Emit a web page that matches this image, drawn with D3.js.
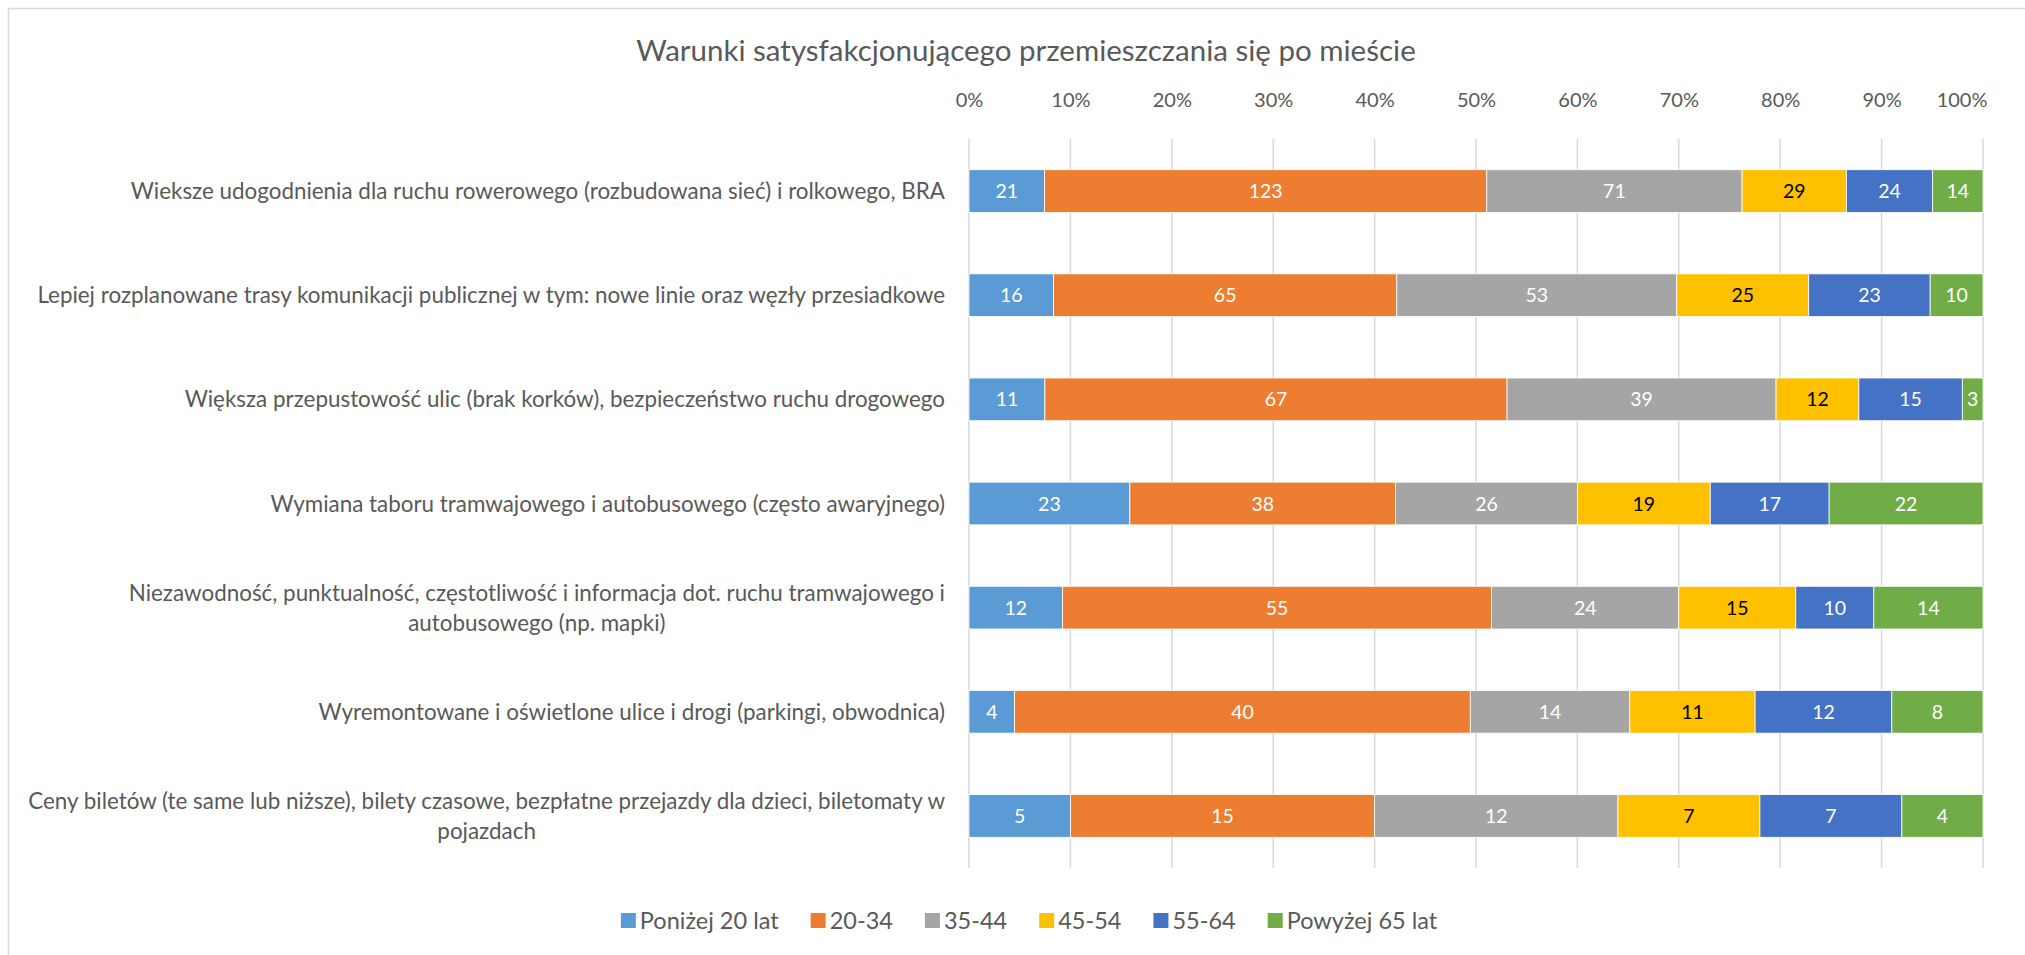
<!DOCTYPE html>
<html>
<head>
<meta charset="utf-8">
<script src="https://cdn.jsdelivr.net/npm/d3@7"></script>
<style>
  body { margin: 0; background: #fff; }
  svg { display: block; font-family: Lato, "Open Sans", sans-serif; }
  .lbl { fill: #595959; }
</style>
</head>
<body>
<div id="chartDiv"></div>
<script>
var categories = [
	["Wieksze udogodnienia dla ruchu rowerowego (rozbudowana sieć) i rolkowego, BRA"],
	["Lepiej rozplanowane trasy komunikacji publicznej w tym: nowe linie oraz węzły przesiadkowe"],
	["Większa przepustowość ulic (brak korków), bezpieczeństwo ruchu drogowego"],
	["Wymiana taboru tramwajowego i autobusowego (często awaryjnego)"],
	["Niezawodność, punktualność, częstotliwość i informacja dot. ruchu tramwajowego i", "autobusowego (np. mapki)"],
	["Wyremontowane i oświetlone ulice i drogi (parkingi, obwodnica)"],
	["Ceny biletów (te same lub niższe), bilety czasowe, bezpłatne przejazdy dla dzieci, biletomaty w", "pojazdach"]
];
var seriesNames = ["Poniżej 20 lat", "20-34", "35-44", "45-54", "55-64", "Powyżej 65 lat"];
var seriesColors = ["#5B9BD5", "#ED7D31", "#A5A5A5", "#FFC000", "#4472C4", "#70AD47"];
var labelColors = ["#fff", "#fff", "#fff", "#000", "#fff", "#fff"];

var ponizej20 = [21, 16, 11, 23, 12, 4, 5];
var a20_34 = [123, 65, 67, 38, 55, 40, 15];
var a35_44 = [71, 53, 39, 26, 24, 14, 12];
var a45_54 = [29, 25, 12, 19, 15, 11, 7];
var a55_64 = [24, 23, 15, 17, 10, 12, 7];
var powyzej65 = [14, 10, 3, 22, 14, 8, 4];
var seriesValues = [ponizej20, a20_34, a35_44, a45_54, a55_64, powyzej65];

var tickValues = [0, 0.1, 0.2, 0.3, 0.4, 0.5, 0.6, 0.7, 0.8, 0.9, 1];

var W = 2025, H = 955;
var svg = d3.select("#chartDiv").append("svg").attr("width", W).attr("height", H);

// chart frame (only left/top visible in the screenshot)
svg.append("rect")
	.attr("x", 8.5).attr("y", 8.5).attr("width", W + 20).attr("height", H + 20)
	.attr("fill", "none").attr("stroke", "#D9D9D9").attr("stroke-width", 1.5);

svg.append("text").attr("class", "lbl")
	.attr("x", 1026).attr("y", 61).attr("text-anchor", "middle")
	.style("font-size", "29.5px")
	.text("Warunki satysfakcjonującego przemieszczania się po mieście");

var x = d3.scaleLinear().domain([0, 1]).range([969, 1983]);
var y = d3.scaleBand().domain(d3.range(categories.length)).range([139, 868]).paddingInner(0.59).paddingOuter(0.295);

// gridlines
svg.append("g").selectAll("line").data(tickValues).enter().append("line")
	.attr("x1", function(d) { return x(d); }).attr("x2", function(d) { return x(d); })
	.attr("y1", 139).attr("y2", 868)
	.attr("stroke", "#D9D9D9").attr("stroke-width", 1.5);

var xAxis = d3.axisTop(x).tickValues(tickValues).tickFormat(d3.format(".0%")).tickSize(0).tickPadding(0);
var ax = svg.append("g").attr("transform", "translate(0,107)").call(xAxis);
ax.select(".domain").remove();
ax.selectAll("text").attr("class", "lbl").style("font-size", "20px").style("font-family", "Lato, sans-serif");
// last label is kept inside the chart area, like Excel does
ax.selectAll(".tick text").filter(function(d) { return d === 1; })
	.attr("text-anchor", "end").attr("x", 1987 - x(1));

// stacked data
var rows = categories.map(function(c, i) {
	var total = d3.sum(seriesValues, function(s) { return s[i]; });
	var acc = 0;
	return seriesValues.map(function(s, k) {
		var seg = { row: i, k: k, v: s[i], x0: acc / total, x1: (acc + s[i]) / total };
		acc += s[i];
		return seg;
	});
});
var segs = [].concat.apply([], rows);

svg.append("g").selectAll("rect").data(segs).enter().append("rect")
	.attr("x", function(d) { return x(d.x0); })
	.attr("width", function(d) { return x(d.x1) - x(d.x0); })
	.attr("y", function(d) { return y(d.row); })
	.attr("height", y.bandwidth())
	.attr("fill", function(d) { return seriesColors[d.k]; })
	.attr("stroke", "#fff").attr("stroke-width", 0.8);

svg.append("g").selectAll("text").data(segs).enter().append("text")
	.attr("x", function(d) { return (x(d.x0) + x(d.x1)) / 2; })
	.attr("y", function(d) { return y(d.row) + y.bandwidth() / 2; })
	.attr("dy", "0.36em")
	.attr("text-anchor", "middle")
	.style("font-size", "19.5px")
	.attr("fill", function(d) { return labelColors[d.k]; })
	.text(function(d) { return d.v; });

// category labels, right aligned, wrapped lines centred on the block
var catG = svg.append("g");
categories.forEach(function(lines, i) {
	var cy = y(i) + y.bandwidth() / 2;
	var lh = 30;
	var t = catG.append("text").attr("class", "lbl").style("font-size", "22.4px");
	lines.forEach(function(s, j) {
		t.append("tspan").attr("y", cy + (j - (lines.length - 1) / 2) * lh).attr("dy", "0.36em").text(s);
	});
	var maxW = 0;
	t.selectAll("tspan").each(function() { maxW = Math.max(maxW, this.getComputedTextLength()); });
	var right = 945;
	if (lines.length === 1) {
		t.attr("text-anchor", "end").selectAll("tspan").attr("x", right);
	} else {
		t.attr("text-anchor", "middle").selectAll("tspan").attr("x", right - maxW / 2);
	}
});

// legend
var leg = svg.append("g");
var lx = 0, gap = 32;
seriesNames.forEach(function(n, k) {
	var g = leg.append("g").attr("transform", "translate(" + lx + ",0)");
	g.append("rect").attr("x", 0).attr("y", -8).attr("width", 15).attr("height", 15).attr("fill", seriesColors[k]);
	var tt = g.append("text").attr("class", "lbl").attr("x", 19).attr("dy", "0.36em").style("font-size", "23.5px").text(n);
	lx += 19 + tt.node().getComputedTextLength() + gap;
});
lx -= gap;
leg.attr("transform", "translate(" + (1029 - lx / 2) + ",921)");
</script>
</body>
</html>
